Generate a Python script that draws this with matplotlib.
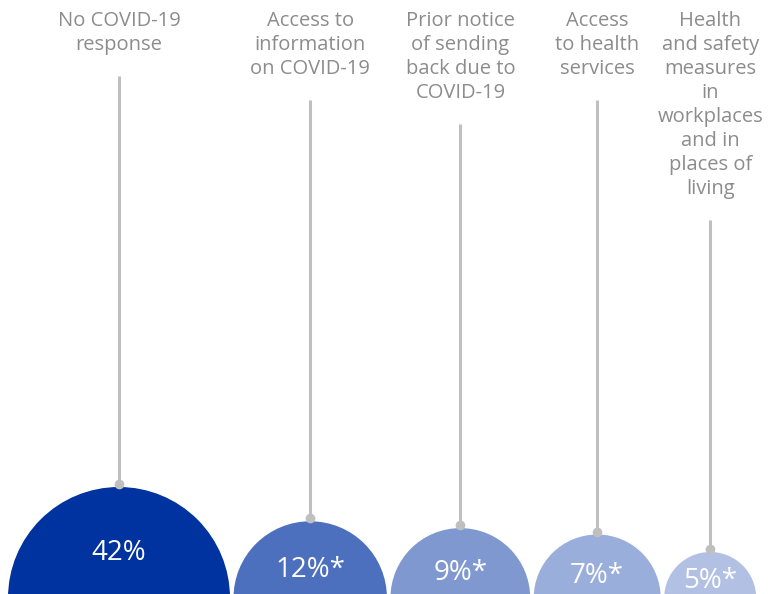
import matplotlib
matplotlib.use("Agg")
import matplotlib.pyplot as plt
from matplotlib.patches import Circle
import numpy as np

# ---- data ----
categories = [
    "No COVID-19\nresponse",
    "Access to\ninformation\non COVID-19",
    "Prior notice\nof sending\nback due to\nCOVID-19",
    "Access\nto health\nservices",
    "Health\nand safety\nmeasures\nin\nworkplaces\nand in\nplaces of\nliving",
]
values = [42, 12, 9, 7, 5]
value_labels = ["42%", "12%*", "9%*", "7%*", "5%*"]
colors = ["#0033A0", "#4C6FBE", "#7F99D0", "#99AEDA", "#B2C1E3"]

# ---- styling / layout (pixel coordinates) ----
W, H = 769, 594
R_MIN, R_MAX, EXP = 46.0, 111.0, 0.45
GAP = 3.5
LEFT = 8.0
CY = 598.0
LINE_COLOR = "#BFBFBF"
TEXT_COLOR = "#8C8C8C"

fig = plt.figure(figsize=(W / 100, H / 100), dpi=100)
ax = fig.add_axes([0, 0, 1, 1])
ax.set_xlim(0, W)
ax.set_ylim(H, 0)
ax.axis("off")

v = np.array(values, dtype=float)
t = (v - v.min()) / (v.max() - v.min())
radii = R_MIN + (R_MAX - R_MIN) * t ** EXP

xs = []
edge = LEFT
for r in radii:
    xs.append(edge + r)
    edge += 2 * r + GAP

for x, r, c, cat, lab in zip(xs, radii, colors, categories, value_labels):
    ax.add_patch(Circle((x, CY), r, facecolor=c, edgecolor="none", zorder=2))
    top = CY - r
    vis_mid = (top + H) / 2
    ax.text(x, min(vis_mid + 19, 588), lab, ha="center", va="baseline", color="white",
            fontsize=20, family="Open Sans", zorder=4)
    lines = cat.split("\n")
    for i, ln in enumerate(lines):
        ax.text(x, 26 + 24 * i, ln, ha="center", va="baseline", color=TEXT_COLOR,
                fontsize=14.5, family="Open Sans")
    line_top = 26 + 24 * (len(lines) - 1) + 26
    ax.plot([x, x], [line_top, top - 3], color=LINE_COLOR, lw=2.2,
            solid_capstyle="butt", zorder=1)
    ax.plot([x], [top - 3], marker="o", ms=7, color=LINE_COLOR, mec="none", zorder=3)

fig.savefig("out.png", dpi=100)
